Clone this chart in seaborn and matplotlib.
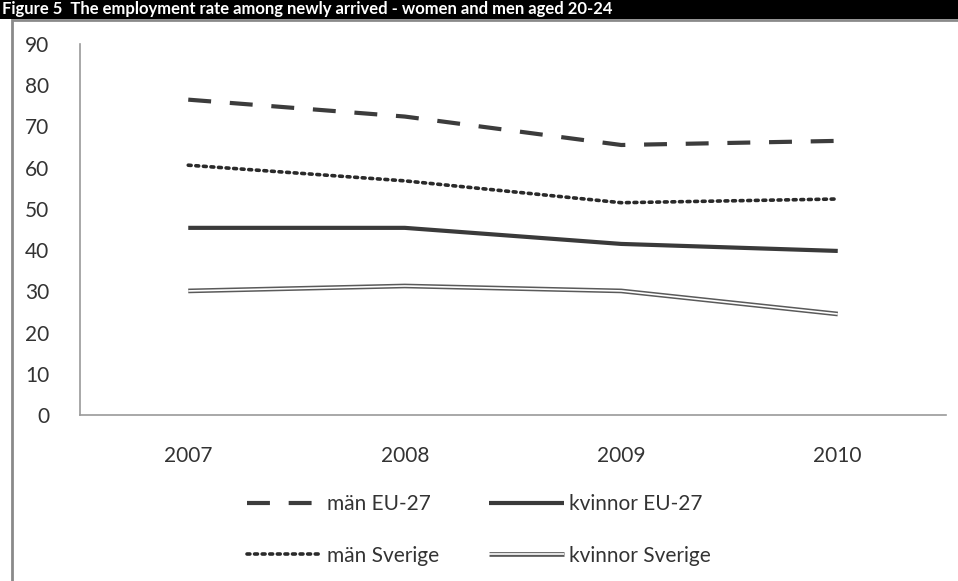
import matplotlib
matplotlib.use('Agg')
import matplotlib.pyplot as plt
import pandas as pd
import seaborn as sns
from matplotlib.legend_handler import HandlerTuple
from matplotlib.patches import Rectangle

years = ['2007', '2008', '2009', '2010']
man_eu = [76.5, 72.4, 65.5, 66.5]
man_se = [60.6, 56.8, 51.5, 52.4]
kvinnor_eu = [45.4, 45.4, 41.5, 39.8]
kvinnor_se = [30.1, 31.3, 30.1, 24.5]
title = 'Figure 5  The employment rate among newly arrived - women and men aged 20-24'

df = pd.DataFrame({'year': years, 'man_eu': man_eu, 'man_se': man_se,
                   'kvinnor_eu': kvinnor_eu, 'kvinnor_se': kvinnor_se})

sns.set_style('white')
plt.rcParams['font.family'] = ['Lato', 'DejaVu Sans']

fig = plt.figure(figsize=(9.58, 5.81), dpi=100)
ax = fig.add_axes([80/958, 1-415/581, 866/958, 371/581])

sns.lineplot(data=df, x='year', y='man_eu', ax=ax, color='#3c3c3c', lw=3,
             linestyle=(0, (5.5, 4.5)), sort=False)
sns.lineplot(data=df, x='year', y='man_se', ax=ax, color='#2a2a2a', lw=2.6,
             linestyle=(0, (0.8, 1.3)), sort=False)
sns.lineplot(data=df, x='year', y='kvinnor_eu', ax=ax, color='#3a3a3a', lw=3, sort=False)
sns.lineplot(data=df, x='year', y='kvinnor_se', ax=ax, color='#5a5a5a', lw=3.4, sort=False)
sns.lineplot(data=df, x='year', y='kvinnor_se', ax=ax, color='white', lw=1.2, sort=False)

lines = ax.get_lines()
for ln in lines:
    ln.set_solid_capstyle('butt')
lines[1].set_dash_capstyle('round')

ax.set_xlim(-0.5, 3.5)
ax.set_ylim(0, 90)
ax.set_yticks(range(0, 91, 10))
ax.set_xlabel('')
ax.set_ylabel('')
ax.tick_params(axis='both', labelsize=15, colors='#333333', length=0)
ax.tick_params(axis='y', pad=22)
ax.tick_params(axis='x', pad=22)
for s in ['top', 'right']:
    ax.spines[s].set_visible(False)
for s in ['left', 'bottom']:
    ax.spines[s].set_color('#9a9a9a')
    ax.spines[s].set_linewidth(1.2)

# legend filled column by column
handles = [lines[0], lines[1], lines[2], (lines[3], lines[4])]
labels = ['män EU-27', 'män Sverige', 'kvinnor EU-27', 'kvinnor Sverige']
leg = fig.legend(handles, labels, ncol=2, loc='center', bbox_to_anchor=(0.5, 1-530/581),
                 frameon=False, handlelength=3.6, handletextpad=0.25,
                 columnspacing=2.4, labelspacing=1.5,
                 handler_map={tuple: HandlerTuple(ndivide=1, pad=0)},
                 prop={'size': 15})
for t in leg.get_texts():
    t.set_color('#333333')

# outer frame and title bar
fig.patches.append(Rectangle((12/958, -0.01), 1, 1-20/581 + 0.01, transform=fig.transFigure,
                             fill=False, edgecolor='#8a8a8a', lw=2, zorder=0))
fig.patches.append(Rectangle((0, 1-19/581), 1, 19/581, transform=fig.transFigure,
                             facecolor='black', edgecolor='none', zorder=1))
fig.text(0.002, 1-14/581, title, color='white', fontsize=12, fontweight='bold',
         va='baseline', ha='left')

fig.savefig('out.png', dpi=100)
